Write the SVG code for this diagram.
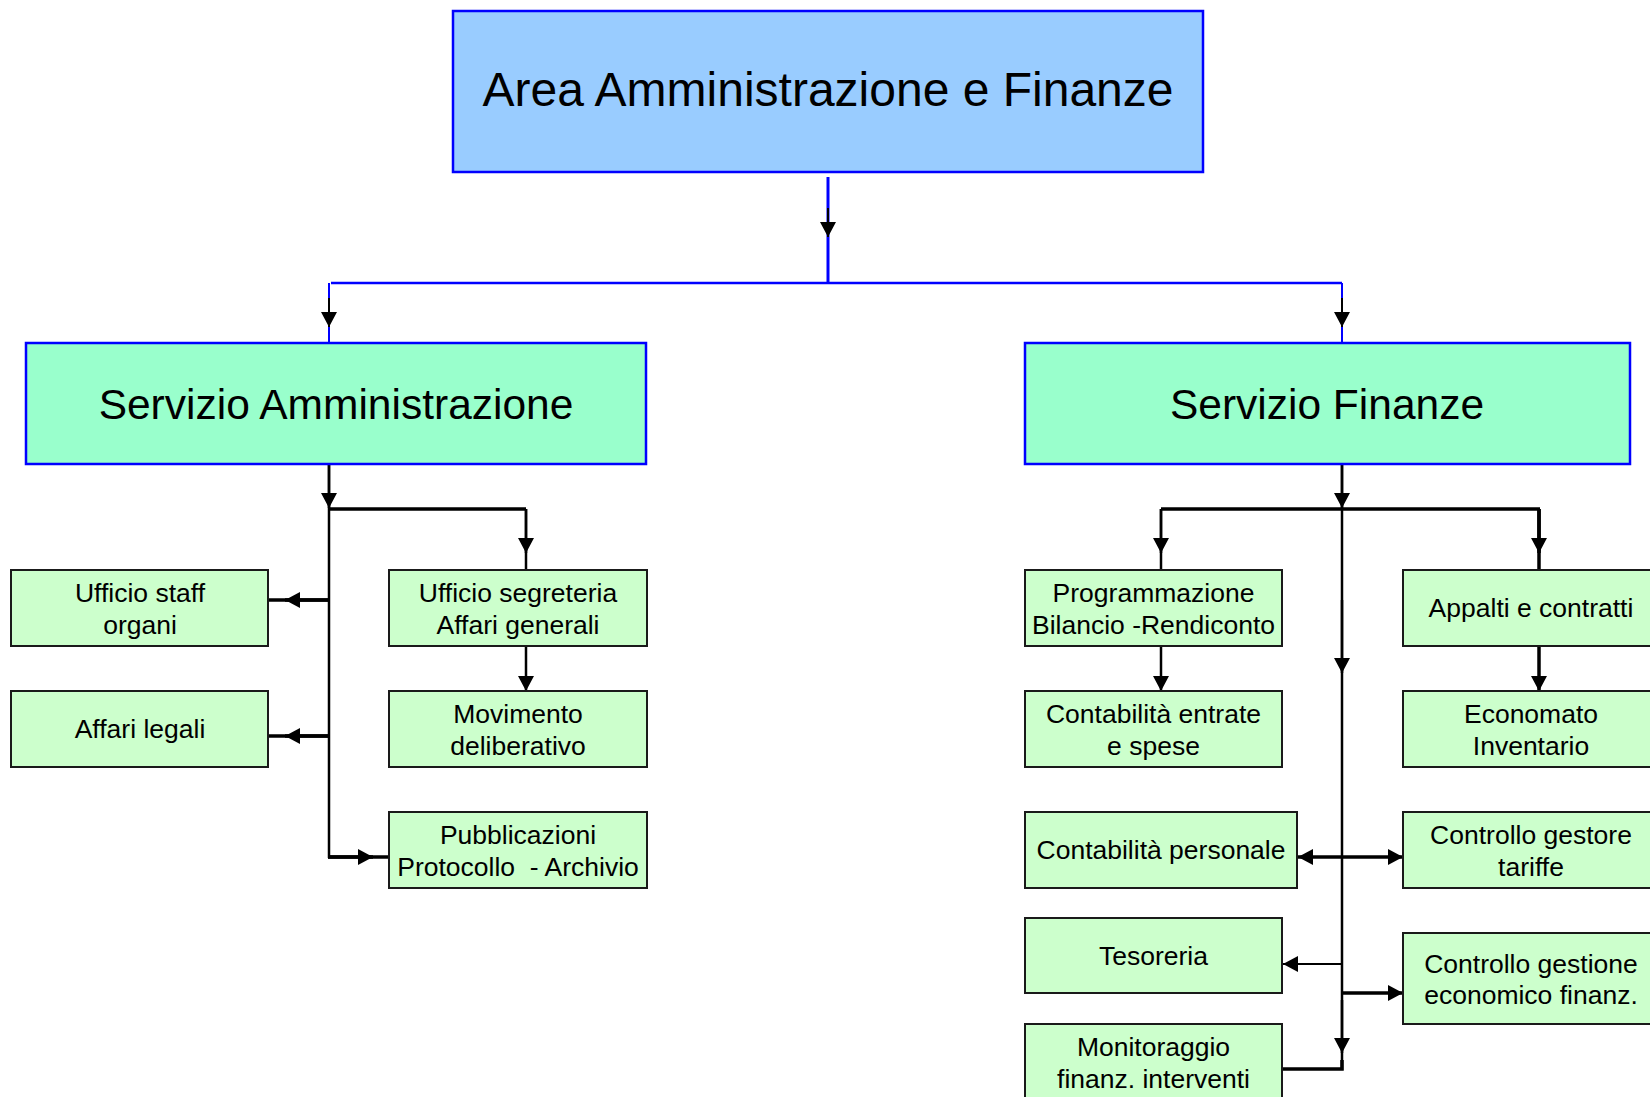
<svg xmlns="http://www.w3.org/2000/svg" width="1650" height="1097" viewBox="0 0 1650 1097">
<style>
text{font-family:"Liberation Sans",Arial,sans-serif;fill:#000;text-anchor:middle}
.t1{font-size:48px}
.t2{font-size:42.5px}
.t3{font-size:26.5px}
.top{fill:#99CCFF;stroke:#0000FF;stroke-width:2.5}
.srv{fill:#99FFCC;stroke:#0000FF;stroke-width:2.5}
.box{fill:#CCFFCC;stroke:#1a1a1a;stroke-width:2}
.bl{stroke:#0000FF;fill:none}
.k{stroke:#000;fill:none;stroke-width:2.5}
.kt{stroke:#000;fill:none;stroke-width:3.5}
.kn{stroke:#000;fill:none;stroke-width:2}
.a{marker-end:url(#ah)}
</style>
<defs>
<marker id="ah" markerUnits="userSpaceOnUse" markerWidth="16" markerHeight="16" refX="15" refY="8" orient="auto" viewBox="0 0 16 16">
<path d="M0,0 L15,8 L0,16 Z" fill="#000"/>
</marker>
</defs>
<rect width="1650" height="1097" fill="#fff"/>

<g id="connectors">
<line class="bl" x1="828" y1="177" x2="828" y2="283" stroke-width="3"/>
<line class="kn a" x1="828" y1="208" x2="828" y2="237"/>
<line class="bl" x1="331" y1="283" x2="1342" y2="283" stroke-width="2.5"/>
<line class="bl" x1="329" y1="283" x2="329" y2="342" stroke-width="2"/>
<line class="kn a" x1="329" y1="298" x2="329" y2="327"/>
<line class="bl" x1="1342" y1="283" x2="1342" y2="342" stroke-width="2"/>
<line class="kn a" x1="1342" y1="298" x2="1342" y2="327"/>

<line class="k" x1="329" y1="465" x2="329" y2="858"/>
<line class="k a" x1="329" y1="465" x2="329" y2="508"/>
<line class="kt" x1="329" y1="509" x2="526" y2="509"/>
<line class="k" x1="526" y1="509" x2="526" y2="570"/>
<line class="k a" x1="526" y1="509" x2="526" y2="553"/>
<line class="k a" x1="526" y1="647" x2="526" y2="691"/>
<line class="kt" x1="329" y1="600" x2="269" y2="600"/>
<line class="kt a" x1="329" y1="600" x2="285" y2="600"/>
<line class="kt" x1="329" y1="736" x2="269" y2="736"/>
<line class="kt a" x1="329" y1="736" x2="285" y2="736"/>
<line class="kt" x1="328" y1="857" x2="389" y2="857"/>
<line class="kt a" x1="328" y1="857" x2="373" y2="857"/>

<line class="k" x1="1342" y1="465" x2="1342" y2="1070"/>
<line class="k a" x1="1342" y1="465" x2="1342" y2="508"/>
<line class="k a" x1="1342" y1="600" x2="1342" y2="673"/>
<line class="k a" x1="1342" y1="1000" x2="1342" y2="1053"/>
<line class="kt" x1="1161" y1="509" x2="1540" y2="509"/>
<line class="k" x1="1161" y1="509" x2="1161" y2="570"/>
<line class="k a" x1="1161" y1="509" x2="1161" y2="553"/>
<line class="kt" x1="1539" y1="509" x2="1539" y2="570"/>
<line class="kt a" x1="1539" y1="509" x2="1539" y2="553"/>
<line class="k a" x1="1161" y1="647" x2="1161" y2="691"/>
<line class="kt a" x1="1539" y1="647" x2="1539" y2="691"/>
<line class="kt a" x1="1342" y1="857" x2="1298" y2="857"/>
<line class="kt a" x1="1342" y1="857" x2="1403" y2="857"/>
<line class="kn a" x1="1342" y1="964" x2="1283" y2="964"/>
<line class="kt a" x1="1342" y1="993" x2="1403" y2="993"/>
<polyline class="kt" points="1283,1069 1342,1069 1342,1060"/>
</g>

<g id="area">
<rect class="top" x="453" y="11" width="750" height="161"/>
<text class="t1" x="828" y="106">Area Amministrazione e Finanze</text>
</g>
<g id="servizio-amministrazione">
<rect class="srv" x="26" y="343" width="620" height="121"/>
<text class="t2" x="336" y="419">Servizio Amministrazione</text>
</g>
<g id="servizio-finanze">
<rect class="srv" x="1025" y="343" width="605" height="121"/>
<text class="t2" x="1327" y="419">Servizio Finanze</text>
</g>

<g id="ufficio-staff">
<rect class="box" x="11" y="570" width="257" height="76"/>
<text class="t3" x="140" y="602">Ufficio staff</text>
<text class="t3" x="140" y="634">organi</text>
</g>
<g id="affari-legali">
<rect class="box" x="11" y="691" width="257" height="76"/>
<text class="t3" x="140" y="738">Affari legali</text>
</g>
<g id="ufficio-segreteria">
<rect class="box" x="389" y="570" width="258" height="76"/>
<text class="t3" x="518" y="602">Ufficio segreteria</text>
<text class="t3" x="518" y="634">Affari generali</text>
</g>
<g id="movimento">
<rect class="box" x="389" y="691" width="258" height="76"/>
<text class="t3" x="518" y="723">Movimento</text>
<text class="t3" x="518" y="755">deliberativo</text>
</g>
<g id="pubblicazioni">
<rect class="box" x="389" y="812" width="258" height="76"/>
<text class="t3" x="518" y="844">Pubblicazioni</text>
<text class="t3" x="518" y="876" xml:space="preserve">Protocollo  - Archivio</text>
</g>

<g id="programmazione">
<rect class="box" x="1025" y="570" width="257" height="76"/>
<text class="t3" x="1153.5" y="602">Programmazione</text>
<text class="t3" x="1153.5" y="634">Bilancio -Rendiconto</text>
</g>
<g id="contabilita-entrate">
<rect class="box" x="1025" y="691" width="257" height="76"/>
<text class="t3" x="1153.5" y="723">Contabilità entrate</text>
<text class="t3" x="1153.5" y="755">e spese</text>
</g>
<g id="contabilita-personale">
<rect class="box" x="1025" y="812" width="272" height="76"/>
<text class="t3" x="1161" y="859">Contabilità personale</text>
</g>
<g id="tesoreria">
<rect class="box" x="1025" y="918" width="257" height="75"/>
<text class="t3" x="1153.5" y="965">Tesoreria</text>
</g>
<g id="monitoraggio">
<rect class="box" x="1025" y="1024" width="257" height="76"/>
<text class="t3" x="1153.5" y="1056">Monitoraggio</text>
<text class="t3" x="1153.5" y="1088">finanz. interventi</text>
</g>
<g id="appalti">
<rect class="box" x="1403" y="570" width="257" height="76"/>
<text class="t3" x="1531" y="617">Appalti e contratti</text>
</g>
<g id="economato">
<rect class="box" x="1403" y="691" width="257" height="76"/>
<text class="t3" x="1531" y="723">Economato</text>
<text class="t3" x="1531" y="755">Inventario</text>
</g>
<g id="controllo-gestore">
<rect class="box" x="1403" y="812" width="257" height="76"/>
<text class="t3" x="1531" y="844">Controllo gestore</text>
<text class="t3" x="1531" y="876">tariffe</text>
</g>
<g id="controllo-gestione">
<rect class="box" x="1403" y="933" width="257" height="91"/>
<text class="t3" x="1531" y="973">Controllo gestione</text>
<text class="t3" x="1531" y="1004">economico finanz.</text>
</g>
</svg>
